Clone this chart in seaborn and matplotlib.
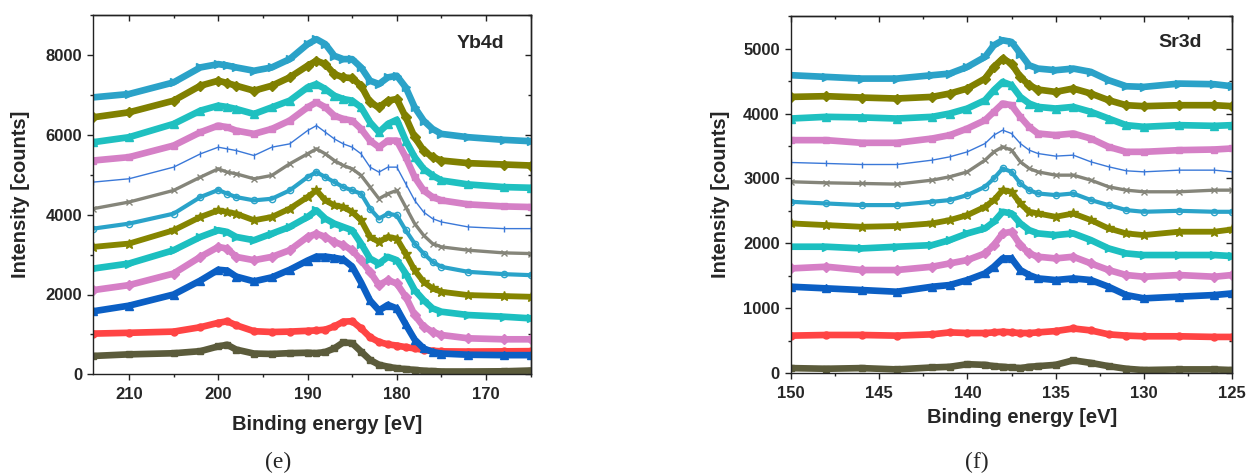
import matplotlib
matplotlib.use("Agg")
import matplotlib.pyplot as plt
import numpy as np
import pandas as pd
import seaborn as sns
from matplotlib.ticker import MultipleLocator

# ---------------- data: panel (e) Yb4d ----------------
e_energy = [214, 210, 205, 202, 200, 199, 198, 196, 194, 192, 190, 189, 188, 187, 186,
            185, 184, 183, 182, 181, 180, 179, 178, 177, 176, 175, 172, 168, 165]
e1 = [460, 500, 527, 580, 700, 740, 620, 520, 510, 530, 540, 530, 560, 650, 800,
      780, 570, 360, 240, 190, 150, 130, 110, 90, 80, 70, 70, 75, 95]
e2 = [1020, 1040, 1070, 1180, 1290, 1330, 1230, 1080, 1060, 1070, 1090, 1100, 1120, 1200, 1320,
      1330, 1150, 930, 810, 750, 720, 680, 650, 610, 590, 575, 570, 575, 580]
e3 = [1580, 1720, 2000, 2350, 2620, 2600, 2450, 2330, 2430, 2620, 2850, 2950, 2950, 2920, 2880,
      2700, 2300, 1850, 1600, 1740, 1650, 1250, 870, 650, 560, 520, 490, 480, 480]
e4 = [2110, 2235, 2526, 2943, 3193, 3150, 2943, 2860, 2943, 3110, 3443, 3526, 3443, 3318, 3235,
      3110, 2860, 2568, 2235, 2360, 2276, 1943, 1485, 1193, 1068, 985, 902, 877, 877]
e5 = [2650, 2776, 3110, 3443, 3610, 3568, 3443, 3360, 3526, 3693, 3943, 4109, 3901, 3776, 3693,
      3610, 3276, 2901, 2776, 2943, 2860, 2526, 2110, 1860, 1652, 1568, 1485, 1443, 1402]
e6 = [3193, 3276, 3610, 3943, 4109, 4070, 4026, 3860, 3943, 4151, 4442, 4609, 4359, 4234, 4193,
      4068, 3860, 3443, 3318, 3443, 3401, 3026, 2609, 2318, 2151, 2068, 1985, 1960, 1943]
e7 = [3651, 3776, 4026, 4442, 4620, 4526, 4442, 4359, 4400, 4609, 4942, 5067, 4942, 4817, 4692,
      4609, 4526, 4151, 3901, 4026, 3984, 3609, 3276, 3026, 2818, 2693, 2568, 2510, 2485]
e8 = [4151, 4317, 4609, 4942, 5150, 5067, 5025, 4900, 4984, 5275, 5525, 5650, 5525, 5358, 5234,
      5150, 4984, 4692, 4400, 4526, 4609, 4192, 3776, 3484, 3276, 3193, 3110, 3043, 3026]
e9 = [4817, 4900, 5192, 5525, 5692, 5650, 5608, 5483, 5692, 5775, 6108, 6233, 6067, 5900, 5775,
      5692, 5525, 5192, 5067, 5192, 5192, 4775, 4359, 4067, 3901, 3818, 3693, 3651, 3651]
e10 = [5358, 5442, 5733, 6067, 6233, 6192, 6108, 6025, 6150, 6358, 6691, 6816, 6691, 6483, 6400,
       6358, 6150, 5857, 5692, 5857, 5857, 5442, 4942, 4609, 4442, 4359, 4259, 4208, 4192]
e11 = [5817, 5942, 6275, 6608, 6733, 6700, 6650, 6525, 6691, 6858, 7191, 7274, 7150, 6983, 6900,
       6858, 6691, 6316, 6067, 6275, 6380, 5858, 5442, 5150, 4984, 4858, 4759, 4692, 4675]
e12 = [6441, 6566, 6858, 7233, 7358, 7300, 7233, 7108, 7233, 7441, 7733, 7858, 7774, 7524, 7441,
       7424, 7233, 6816, 6691, 6858, 6900, 6441, 5942, 5608, 5442, 5358, 5292, 5258, 5233]
e13 = [6941, 7024, 7316, 7691, 7774, 7740, 7691, 7608, 7691, 7899, 8274, 8399, 8274, 7982, 7899,
       7899, 7691, 7358, 7274, 7441, 7483, 7191, 6691, 6358, 6150, 6025, 5942, 5875, 5842]

# ---------------- data: panel (f) Sr3d ----------------
f_energy = [150, 148, 146, 144, 142, 141, 140, 139, 138.5, 138, 137.5, 137, 136.5, 136,
            135, 134, 133, 132, 131, 130, 128, 126, 125]
f1 = [80, 70, 80, 60, 90, 100, 140, 130, 110, 100, 90, 80, 100, 110, 130, 200, 160, 110, 70, 50, 60, 60, 50]
f2 = [580, 590, 590, 580, 600, 630, 620, 620, 630, 640, 630, 620, 620, 630, 650, 690, 660, 600, 580, 570, 570, 560, 560]
f3 = [1333, 1308, 1282, 1256, 1333, 1359, 1436, 1538, 1641, 1769, 1769, 1590, 1513, 1461, 1436, 1461, 1436, 1333, 1205, 1154, 1180, 1205, 1230]
f4 = [1615, 1641, 1590, 1590, 1641, 1692, 1744, 1846, 1974, 2154, 2180, 1974, 1846, 1795, 1769, 1795, 1692, 1590, 1513, 1487, 1513, 1487, 1513]
f5 = [1949, 1949, 1923, 1949, 1974, 2051, 2154, 2231, 2333, 2487, 2461, 2308, 2205, 2154, 2128, 2154, 2051, 1923, 1846, 1821, 1821, 1821, 1805]
f6 = [2308, 2282, 2256, 2267, 2308, 2359, 2436, 2564, 2667, 2820, 2795, 2615, 2487, 2461, 2410, 2461, 2359, 2231, 2154, 2128, 2180, 2180, 2215]
f7 = [2641, 2615, 2590, 2590, 2641, 2667, 2744, 2872, 3000, 3154, 3102, 2923, 2820, 2769, 2744, 2769, 2667, 2590, 2513, 2487, 2502, 2487, 2487]
f8 = [2949, 2933, 2923, 2913, 2974, 3026, 3102, 3282, 3410, 3487, 3436, 3256, 3154, 3102, 3051, 3051, 2974, 2872, 2820, 2795, 2795, 2820, 2820]
f9 = [3246, 3231, 3215, 3215, 3282, 3333, 3410, 3538, 3667, 3744, 3692, 3538, 3436, 3384, 3344, 3359, 3256, 3180, 3118, 3102, 3128, 3128, 3102]
f10 = [3590, 3590, 3549, 3549, 3615, 3667, 3769, 3897, 4026, 4154, 4128, 3949, 3795, 3692, 3667, 3692, 3615, 3487, 3410, 3410, 3436, 3446, 3462]
f11 = [3923, 3949, 3940, 3923, 3949, 4000, 4077, 4205, 4359, 4487, 4436, 4256, 4154, 4102, 4077, 4102, 4026, 3923, 3821, 3795, 3821, 3810, 3821]
f12 = [4256, 4267, 4246, 4231, 4256, 4308, 4385, 4538, 4718, 4846, 4769, 4564, 4436, 4369, 4333, 4385, 4308, 4205, 4128, 4113, 4128, 4128, 4113]
f13 = [4590, 4564, 4538, 4538, 4590, 4615, 4718, 4872, 5051, 5128, 5102, 4923, 4743, 4692, 4667, 4692, 4641, 4513, 4420, 4410, 4461, 4451, 4420]

e_series = [e1, e2, e3, e4, e5, e6, e7, e8, e9, e10, e11, e12, e13]
f_series = [f1, f2, f3, f4, f5, f6, f7, f8, f9, f10, f11, f12, f13]

colors = ["#5b5b3b", "#ff4444", "#0b5fc4", "#d67fc6", "#1cbfc0", "#858500", "#2aa3c9",
          "#85857a", "#3a78d8", "#d580c6", "#1fc0c0", "#808000", "#2ba2c8"]
markers = ["s", "o", "^", "D", ">", "*", "o", "x", "|", "s", "^", "D", ">"]
widths = [4.8, 4.8, 4.8, 4.8, 4.8, 4.2, 3.0, 2.4, 1.0, 4.8, 4.8, 4.8, 4.8]
msizes = [5, 5, 6, 5, 6, 7, 4.5, 5, 5, 5, 6, 5, 6]
fills = ["full", "full", "full", "full", "full", "full", "none", "full", "none",
         "full", "full", "full", "full"]

sns.set_theme(style="ticks")
plt.rcParams["font.family"] = ["Liberation Sans", "DejaVu Sans"]
plt.rcParams["axes.linewidth"] = 1.0
plt.rcParams["axes.edgecolor"] = "#222222"

fig = plt.figure(figsize=(12.47, 4.75), dpi=100)
ax_e = fig.add_axes([0.0748, 0.212, 0.3508, 0.756])
ax_f = fig.add_axes([0.6343, 0.2141, 0.3537, 0.752])


def draw(ax, energy, series):
    for i, y in enumerate(series):
        df = pd.DataFrame({"energy": energy, "counts": y})
        sns.lineplot(data=df, x="energy", y="counts", ax=ax, color=colors[i],
                     lw=widths[i], marker=markers[i], ms=msizes[i],
                     mec=colors[i], fillstyle=fills[i], mew=1.0, legend=False)


def style(ax, xlim, ylim, xmaj, xmin, ymaj, ymin):
    ax.set_xlim(*xlim)
    ax.set_ylim(*ylim)
    ax.xaxis.set_major_locator(MultipleLocator(xmaj))
    ax.xaxis.set_minor_locator(MultipleLocator(xmin))
    ax.yaxis.set_major_locator(MultipleLocator(ymaj))
    ax.yaxis.set_minor_locator(MultipleLocator(ymin))
    ax.tick_params(which="both", direction="out", bottom=True, left=True,
                   top=False, right=False, width=1.0, color="#222222")
    ax.tick_params(which="major", length=4.5)
    ax.tick_params(which="minor", length=2.5)
    ax.tick_params(axis="x", pad=4.5, labelsize=12)
    ax.tick_params(axis="y", pad=3.5, labelsize=12)
    for lab in ax.get_xticklabels() + ax.get_yticklabels():
        lab.set_fontweight("bold")
    top = ax.secondary_xaxis("top")
    top.xaxis.set_major_locator(MultipleLocator(xmaj))
    top.xaxis.set_minor_locator(MultipleLocator(xmin))
    top.tick_params(which="both", direction="in", labeltop=False, width=1.0, color="#222222")
    top.tick_params(which="major", length=4.5)
    top.tick_params(which="minor", length=2.5)
    right = ax.secondary_yaxis("right")
    right.yaxis.set_major_locator(MultipleLocator(ymaj))
    right.yaxis.set_minor_locator(MultipleLocator(ymin))
    right.tick_params(which="both", direction="in", labelright=False, width=1.0, color="#222222")
    right.tick_params(which="major", length=4.5)
    right.tick_params(which="minor", length=2.5)


draw(ax_e, e_energy, e_series)
draw(ax_f, f_energy, f_series)

style(ax_e, (214, 165), (0, 9000), 10, 5, 2000, 1000)
style(ax_f, (150, 125), (0, 5500), 5, 2.5, 1000, 500)

for ax, ylx, xlx, xly in [(ax_e, -0.145, 0.534, -0.113), (ax_f, -0.138, 0.524, -0.097)]:
    ax.set_xlabel("Binding energy [eV]", fontsize=14.5, fontweight="bold", va="top")
    ax.set_ylabel("Intensity [counts]", fontsize=14.5, fontweight="bold")
    ax.xaxis.set_label_coords(xlx, xly)
    ax.yaxis.set_label_coords(ylx, 0.5)

ax_e.text(0.884, 0.922, "Yb4d", transform=ax_e.transAxes, fontsize=14,
          fontweight="bold", ha="center", va="center")
ax_f.text(0.882, 0.927, "Sr3d", transform=ax_f.transAxes, fontsize=14,
          fontweight="bold", ha="center", va="center")

fig.text(0.223, 0.027, "(e)", fontsize=17, family=["Liberation Serif", "DejaVu Serif"],
         ha="center", va="center")
fig.text(0.783, 0.027, "(f)", fontsize=17, family=["Liberation Serif", "DejaVu Serif"],
         ha="center", va="center")

fig.savefig("out.png", dpi=100)
